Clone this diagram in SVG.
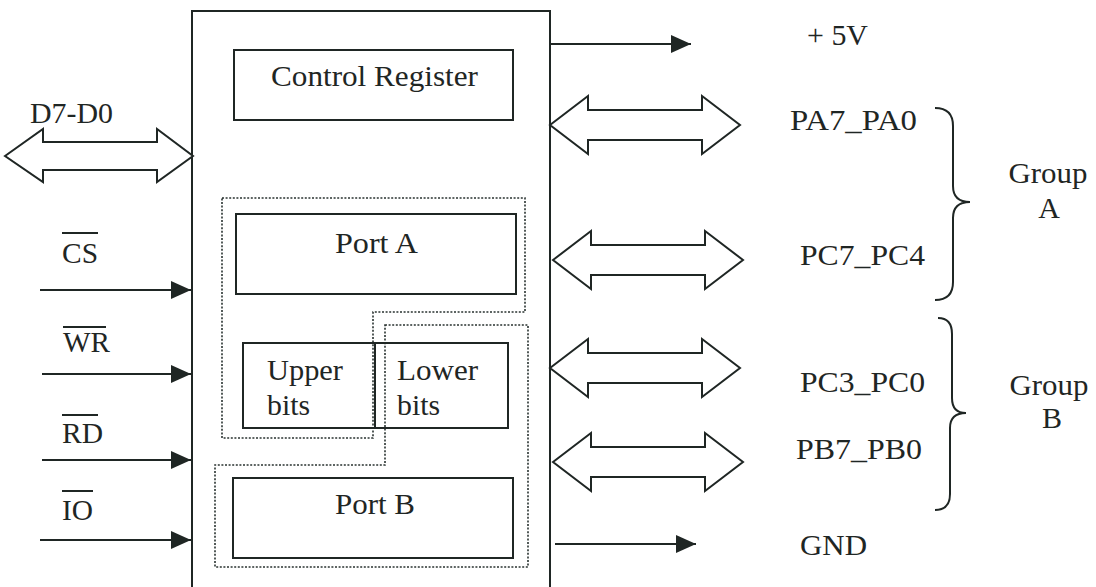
<svg xmlns="http://www.w3.org/2000/svg" width="1096" height="587" viewBox="0 0 1096 587">
<style>
text{font-family:"Liberation Serif","Times New Roman",serif;font-size:30px;fill:#1f2624}
.box{fill:none;stroke:#1f2624;stroke-width:2}
.dot{fill:none;stroke:#2a3331;stroke-width:1.6;stroke-dasharray:2 1.6}
.ln{fill:none;stroke:#1f2624;stroke-width:2}
.dbl{fill:#fff;stroke:#1f2624;stroke-width:2;stroke-linejoin:miter}
.mid{text-anchor:middle}
</style>
<defs>
<marker id="ah" markerUnits="userSpaceOnUse" markerWidth="21" markerHeight="19" refX="20" refY="9" orient="auto">
<path d="M0,0 L20,9 L0,18 z" fill="#1f2624"/>
</marker>
<path id="dbl" d="M0,0 L38,-29 L38,-15 L152,-15 L152,-29 L190,0 L152,29 L152,15 L38,15 L38,29 z"/>
</defs>
<rect width="1096" height="587" fill="#ffffff"/>

<g id="chip">
<rect class="box" x="192" y="11" width="358" height="600"/>
</g>

<g id="control-register">
<rect class="box" x="234" y="50" width="279" height="70"/>
<text class="mid" x="374.5" y="86" textLength="207" lengthAdjust="spacingAndGlyphs">Control Register</text>
</g>

<g id="group-a-outline">
<path class="dot" d="M222,198 L525,198 L525,312 L373,312 L373,438 L222,438 Z"/>
</g>
<g id="group-b-outline">
<path class="dot" d="M385,325 L528,325 L528,567 L215,567 L215,465 L385,465 Z"/>
</g>

<g id="port-a">
<rect class="box" x="236" y="214" width="280" height="80"/>
<text class="mid" x="376.5" y="253" textLength="83" lengthAdjust="spacingAndGlyphs">Port A</text>
</g>

<g id="port-c">
<rect class="box" x="243" y="343" width="265" height="85"/>
<line class="ln" x1="375" y1="343" x2="375" y2="428"/>
<text x="267" y="380" textLength="76" lengthAdjust="spacingAndGlyphs">Upper</text>
<text x="267" y="415" textLength="43" lengthAdjust="spacingAndGlyphs">bits</text>
<text x="397" y="380" textLength="81" lengthAdjust="spacingAndGlyphs">Lower</text>
<text x="397" y="415" textLength="43" lengthAdjust="spacingAndGlyphs">bits</text>
</g>

<g id="port-b">
<rect class="box" x="233" y="478" width="280" height="80"/>
<text class="mid" x="375" y="514" textLength="80" lengthAdjust="spacingAndGlyphs">Port B</text>
</g>

<g id="labels-left">
<text x="30" y="123" textLength="83" lengthAdjust="spacingAndGlyphs">D7-D0</text>
<text x="62" y="263" textLength="36" lengthAdjust="spacingAndGlyphs">CS</text>
<line class="ln" x1="62" y1="233" x2="98" y2="233" stroke-width="1.6"/>
<text x="63" y="352" textLength="47" lengthAdjust="spacingAndGlyphs">WR</text>
<line class="ln" x1="63" y1="327" x2="106" y2="327" stroke-width="1.6"/>
<text x="62" y="443" textLength="41" lengthAdjust="spacingAndGlyphs">RD</text>
<line class="ln" x1="62" y1="415" x2="98" y2="415" stroke-width="1.6"/>
<text x="62" y="520" textLength="31" lengthAdjust="spacingAndGlyphs">IO</text>
<line class="ln" x1="62" y1="491" x2="93" y2="491" stroke-width="1.6"/>
</g>

<g id="labels-right">
<text x="807" y="45" textLength="61" lengthAdjust="spacingAndGlyphs">+ 5V</text>
<text x="790" y="130" textLength="127" lengthAdjust="spacingAndGlyphs">PA7_PA0</text>
<text x="800" y="265" textLength="125" lengthAdjust="spacingAndGlyphs">PC7_PC4</text>
<text x="800" y="392" textLength="125" lengthAdjust="spacingAndGlyphs">PC3_PC0</text>
<text x="796" y="459" textLength="126" lengthAdjust="spacingAndGlyphs">PB7_PB0</text>
<text x="800" y="555" textLength="67" lengthAdjust="spacingAndGlyphs">GND</text>
</g>

<g id="group-a">
<path class="ln" d="M935,108 Q953,108 953,126 L953,186 Q953,202 970,202 Q953,202 953,218 L953,282 Q953,300 935,300"/>
<text class="mid" x="1048" y="183" textLength="79" lengthAdjust="spacingAndGlyphs">Group</text>
<text class="mid" x="1049" y="218">A</text>
</g>

<g id="group-b">
<path class="ln" d="M938,318 Q952,318 952,334 L952,398 Q952,413 966,413 Q950,413 950,428 L950,494 Q950,510 935,510"/>
<text class="mid" x="1049" y="395" textLength="79" lengthAdjust="spacingAndGlyphs">Group</text>
<text class="mid" x="1052" y="428">B</text>
</g>

<g id="connectors">
<path class="dbl" d="M5,156 L43,129 L43,142 L157,142 L157,129 L193,156 L157,182 L157,170 L43,170 L43,182 z"/>
<line class="ln" x1="40" y1="290" x2="191" y2="290" marker-end="url(#ah)"/>
<line class="ln" x1="42" y1="374" x2="191" y2="374" marker-end="url(#ah)"/>
<line class="ln" x1="42" y1="460" x2="191" y2="460" marker-end="url(#ah)"/>
<line class="ln" x1="40" y1="540" x2="191" y2="540" marker-end="url(#ah)"/>
<line class="ln" x1="550" y1="44" x2="691" y2="44" marker-end="url(#ah)"/>
<line class="ln" x1="555" y1="544" x2="696" y2="544" marker-end="url(#ah)"/>
<use href="#dbl" class="dbl" transform="translate(550,125)"/>
<use href="#dbl" class="dbl" transform="translate(553,260)"/>
<use href="#dbl" class="dbl" transform="translate(550,368)"/>
<use href="#dbl" class="dbl" transform="translate(553,462)"/>
</g>
</svg>
